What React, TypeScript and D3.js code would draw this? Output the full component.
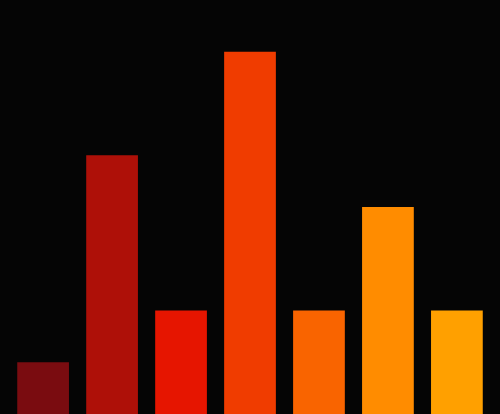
import React from 'react';
import * as d3 from 'd3';

const categories = ['A', 'B', 'C', 'D', 'E', 'F', 'G'];
const values = [1, 5, 2, 7, 2, 4, 2];
const barColors = ['#7a0c10', '#ae1008', '#e61500', '#f03c00', '#f96400', '#ff8c00', '#ffa000'];

const width = 500;
const height = 414;

const App: React.FC = () => {
  const x = d3.scaleBand<string>()
    .domain(categories)
    .range([0, width])
    .padding(0.25);

  const y = d3.scaleLinear()
    .domain([0, 8])
    .range([height, 0]);

  return (
    <div style={{ position: 'fixed', left: 0, top: 0, width, height, background: '#050505' }}>
      <svg width={width} height={height} style={{ display: 'block' }}>
        <rect width={width} height={height} fill="#050505" />
        {categories.map((c, i) => (
          <rect
            key={c}
            x={x(c)}
            y={y(values[i])}
            width={x.bandwidth()}
            height={height - y(values[i])}
            fill={barColors[i]}
          />
        ))}
      </svg>
    </div>
  );
};

export default App;
